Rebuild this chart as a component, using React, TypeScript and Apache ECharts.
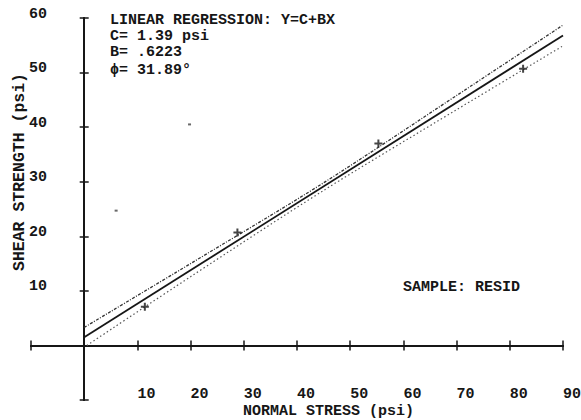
import React, { useEffect, useRef } from "react";
import * as echarts from "echarts";

// ---- data ----
const xTickValues = [-10, 0, 10, 20, 30, 40, 50, 60, 70, 80, 90];
const yTickValues = [-10, 0, 10, 20, 30, 40, 50, 60];
const samplePoints: [number, number][] = [
  [11.4, 7.1],
  [28.8, 20.7],
  [55.3, 37.0],
  [82.5, 50.7],
];
const regressionLine: [number, number][] = [
  [0, 1.5],
  [90, 56.8],
];
const upperBand: [number, number][] = [
  [0, 3.3],
  [20, 15.0],
  [45, 29.8],
  [70, 45.8],
  [90, 58.7],
];
const lowerBand: [number, number][] = [
  [0.5, 0.0],
  [20, 12.6],
  [45, 28.4],
  [70, 43.2],
  [90, 54.9],
];
const strayMarks: [number, number][] = [
  [6.0, 24.7],
  [19.8, 40.5],
];
const annotationLines = [
  "LINEAR REGRESSION: Y=C+BX",
  "C= 1.39 psi",
  "B= .6223",
  "\u03D5= 31.89\u00B0",
];
const sampleLabel = "SAMPLE: RESID";
const xAxisTitle = "NORMAL STRESS (psi)";
const yAxisTitle = "SHEAR STRENGTH (psi)";

const X_MIN = xTickValues[0];
const X_MAX = xTickValues[xTickValues.length - 1];
const Y_MIN = yTickValues[0];
const Y_MAX = yTickValues[yTickValues.length - 1];
const INTERVAL = 10;

const INK = "#161616";
const FONT = "Liberation Mono";
const FS = 15;

export default function App() {
  const ref = useRef<HTMLDivElement>(null);
  useEffect(() => {
    if (!ref.current) return;
    const chart = echarts.init(ref.current, undefined, { renderer: "svg" });
    const labelStyle = {
      color: INK,
      fontFamily: FONT,
      fontSize: FS,
      fontWeight: "bold" as const,
    };
    const baseX = {
      type: "value" as const,
      min: X_MIN,
      max: X_MAX,
      interval: INTERVAL,
      splitLine: { show: false },
    };
    const baseY = {
      type: "value" as const,
      min: Y_MIN,
      max: Y_MAX,
      interval: INTERVAL,
      splitLine: { show: false },
    };
    const lineStyle = { color: INK, width: 2 };
    const tickStyle = { color: INK, width: 1.5 };
    chart.setOption({
      animation: false,
      backgroundColor: "#ffffff",
      grid: {
        left: 31,
        right: 18,
        top: 18,
        bottom: 20,
        containLabel: false,
        outerBoundsMode: "none",
      },
      xAxis: [
        {
          ...baseX,
          position: "bottom",
          axisLine: { show: false, onZero: false },
          axisTick: { show: false },
          axisLabel: {
            ...labelStyle,
            align: "left",
            verticalAlign: "middle",
            lineHeight: 12,
            margin: -6,
            formatter: (v: number) => (v > 0 ? String(v) : ""),
          },
        },
        {
          ...baseX,
          position: "bottom",
          axisLine: { show: true, onZero: true, onZeroAxisIndex: 0, lineStyle },
          axisTick: { show: true, length: 5, lineStyle: tickStyle },
          axisLabel: { show: false },
        },
        {
          ...baseX,
          position: "top",
          axisLine: { show: true, onZero: true, onZeroAxisIndex: 0, lineStyle },
          axisTick: { show: true, length: 5, lineStyle: tickStyle },
          axisLabel: { show: false },
        },
      ],
      yAxis: [
        {
          ...baseY,
          position: "left",
          axisLine: { show: false, onZero: false },
          axisTick: { show: false },
          axisLabel: {
            ...labelStyle,
            align: "left",
            verticalAlign: "bottom",
            lineHeight: 8,
            margin: 2,
            formatter: (v: number) => (v > 0 ? String(v) : ""),
          },
        },
        {
          ...baseY,
          position: "left",
          axisLine: { show: true, onZero: true, onZeroAxisIndex: 0, lineStyle },
          axisTick: { show: true, length: 4.5, lineStyle: tickStyle },
          axisLabel: { show: false },
        },
        {
          ...baseY,
          position: "right",
          axisLine: { show: true, onZero: true, onZeroAxisIndex: 0, lineStyle },
          axisTick: { show: true, length: 4.5, lineStyle: tickStyle },
          axisLabel: { show: false },
        },
      ],
      series: [
        {
          name: "upper",
          type: "line",
          data: upperBand,
          smooth: 0.3,
          showSymbol: false,
          lineStyle: { color: "#333", width: 1.3, type: [3, 1.5, 1, 1.5] },
          z: 3,
        },
        {
          name: "lower",
          type: "line",
          data: lowerBand,
          smooth: 0.3,
          showSymbol: false,
          lineStyle: { color: "#555", width: 1.2, type: [1.5, 2.5] },
          z: 3,
        },
        {
          name: "regression",
          type: "line",
          data: regressionLine,
          showSymbol: false,
          lineStyle: { color: INK, width: 1.8 },
          z: 4,
        },
        {
          name: "samples",
          type: "scatter",
          data: samplePoints,
          symbol: "path://M-1,-4H1V-1H4V1H1V4H-1V1H-4V-1H-1Z",
          symbolSize: 8,
          itemStyle: { color: INK },
          z: 5,
        },
        {
          name: "marks",
          type: "scatter",
          data: strayMarks,
          symbol: "rect",
          symbolSize: [3, 2],
          itemStyle: { color: "#444" },
          z: 5,
        },
      ],
      graphic: [
        ...annotationLines.map((t, i) => ({
          type: "text",
          x: 110,
          y: [20, 36, 52, 70][i],
          style: {
            text: t,
            fill: INK,
            font: `bold ${FS}px "${FONT}"`,
            verticalAlign: "middle",
            align: "left",
          },
        })),
        {
          type: "text",
          x: 403,
          y: 287,
          style: {
            text: sampleLabel,
            fill: INK,
            font: `bold ${FS}px "${FONT}"`,
            verticalAlign: "middle",
            align: "left",
          },
        },
        {
          type: "text",
          x: 243,
          y: 411,
          style: {
            text: xAxisTitle,
            fill: INK,
            font: `bold ${FS}px "${FONT}"`,
            verticalAlign: "middle",
            align: "left",
          },
        },
        {
          type: "text",
          x: 19,
          y: 172,
          rotation: Math.PI / 2,
          style: {
            text: yAxisTitle,
            fill: INK,
            font: `bold 16.5px "${FONT}"`,
            verticalAlign: "middle",
            align: "center",
          },
        },
      ],
    });
    return () => chart.dispose();
  }, []);
  return (
    <div
      ref={ref}
      style={{ position: "absolute", left: 0, top: 0, width: 581, height: 420 }}
    />
  );
}
